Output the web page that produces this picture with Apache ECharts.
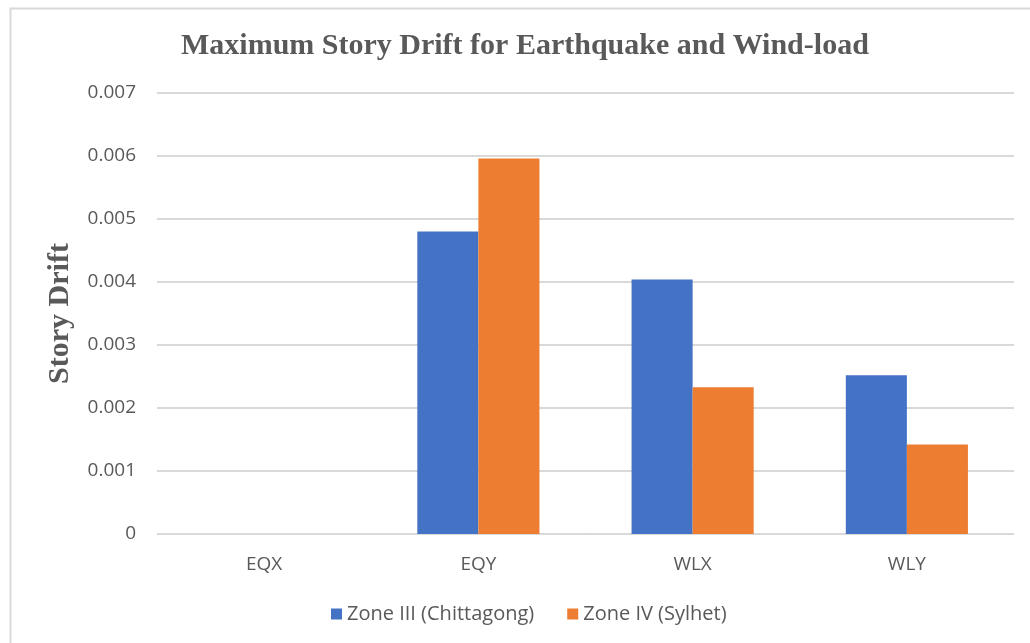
<!DOCTYPE html>
<html>
<head>
<meta charset="utf-8">
<script src="https://cdn.jsdelivr.net/npm/echarts@6/dist/echarts.min.js"></script>
<style>
  html, body { margin: 0; padding: 0; background: #ffffff; }
  #chart { width: 1030px; height: 643px; }
</style>
</head>
<body>
<div id="chart"></div>
<script>
// Load cases along the x axis
const categories = ['EQX', 'EQY', 'WLX', 'WLY'];
// Maximum story drift per seismic zone
const zone3Chittagong = [0, 0.0048, 0.00404, 0.00252];
const zone4Sylhet = [0, 0.00596, 0.00233, 0.00142];
// Value axis ticks
const yTicks = [0, 0.001, 0.002, 0.003, 0.004, 0.005, 0.006, 0.007];

const textGrey = '#595959';
const labelFont = '"Open Sans", "Noto Sans", "Liberation Sans", sans-serif';
const serifFont = '"Liberation Serif", "DejaVu Serif", serif';

const chart = echarts.init(document.getElementById('chart'), null, { renderer: 'canvas' });

chart.setOption({
  backgroundColor: '#ffffff',
  animation: false,
  graphic: [{
    type: 'rect',
    shape: { x: 10.5, y: 8.5, width: 1040, height: 660 },
    style: { fill: 'none', stroke: '#d9d9d9', lineWidth: 2 },
    silent: true
  }],
  title: {
    text: 'Maximum Story Drift for Earthquake and Wind-load',
    left: 176,
    top: 26,
    textStyle: {
      fontFamily: serifFont,
      fontWeight: 'bold',
      fontSize: 30,
      color: textGrey
    }
  },
  legend: {
    top: 599,
    left: 326,
    icon: 'rect',
    itemWidth: 11,
    itemHeight: 11,
    itemGap: 33,
    textStyle: { fontFamily: labelFont, fontSize: 20, color: textGrey },
    data: ['Zone III (Chittagong)', 'Zone IV (Sylhet)']
  },
  grid: { left: 157, right: 16, top: 93, bottom: 109, containLabel: false },
  xAxis: {
    type: 'category',
    data: categories,
    axisLine: { lineStyle: { color: '#d9d9d9', width: 1 } },
    axisTick: { show: false },
    axisLabel: { fontFamily: labelFont, fontSize: 19, color: textGrey, margin: 21 }
  },
  yAxis: {
    type: 'value',
    min: yTicks[0],
    max: yTicks[yTicks.length - 1],
    interval: yTicks[1] - yTicks[0],
    name: 'Story Drift',
    nameLocation: 'middle',
    nameGap: 82,
    nameTextStyle: {
      fontFamily: serifFont,
      fontWeight: 'bold',
      fontSize: 30,
      color: textGrey
    },
    axisLine: { show: false },
    axisTick: { show: false },
    splitLine: { lineStyle: { color: '#d9d9d9', width: 2 } },
    axisLabel: {
      fontFamily: labelFont,
      fontSize: 19,
      color: textGrey,
      margin: 21,
      formatter: v => (v === 0 ? '0' : v.toFixed(3))
    }
  },
  series: [
    {
      name: 'Zone III (Chittagong)',
      type: 'bar',
      data: zone3Chittagong,
      itemStyle: { color: '#4472c4' },
      barGap: '0%',
      barCategoryGap: '43%'
    },
    {
      name: 'Zone IV (Sylhet)',
      type: 'bar',
      data: zone4Sylhet,
      itemStyle: { color: '#ed7d31' },
      barGap: '0%',
      barCategoryGap: '43%'
    }
  ]
});
</script>
</body>
</html>
